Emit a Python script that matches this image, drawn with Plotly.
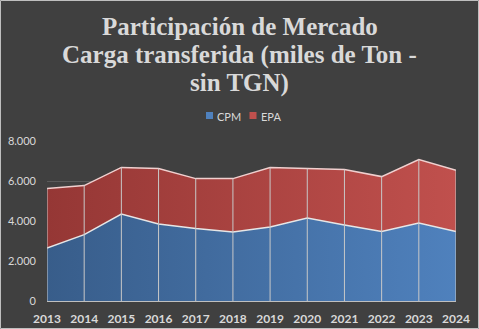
import plotly.graph_objects as go

# Transferred cargo (thousand tons, excluding TGN) by company
years = [2013, 2014, 2015, 2016, 2017, 2018, 2019, 2020, 2021, 2022, 2023, 2024]
cpm = [2650, 3320, 4350, 3850, 3620, 3450, 3700, 4150, 3800, 3470, 3900, 3470]
epa = [2980, 2450, 2330, 2770, 2500, 2670, 2970, 2470, 2770, 2750, 3170, 3060]

y_ticks = [0, 2000, 4000, 6000, 8000]
y_tick_labels = ["0", "2.000", "4.000", "6.000", "8.000"]

title_lines = ["Participación de Mercado",
               "Carga transferida (miles de Ton -",
               "sin TGN)"]

series_names = ["CPM", "EPA"]
series_colors = ["#4f81bd", "#c0504d"]

BG = "#404040"
TXT = "#d9d9d9"
SANS = "Lato, Liberation Sans"

totals = [a + b for a, b in zip(cpm, epa)]

fig = go.Figure()

fig.add_trace(go.Scatter(
    x=years, y=cpm, name=series_names[0], stackgroup="one", mode="lines",
    line=dict(color="#e6e6e6", width=1.5), showlegend=False,
    fillgradient=dict(type="horizontal",
                      colorscale=[[0, "#385d8a"], [1, "#4f81bd"]]),
))
fig.add_trace(go.Scatter(
    x=years, y=epa, name=series_names[1], stackgroup="one", mode="lines",
    line=dict(color="#f0d0cf", width=1.5), showlegend=False,
    fillgradient=dict(type="horizontal",
                      colorscale=[[0, "#953735"], [1, "#c0504d"]]),
))

# vertical drop lines from the baseline to the stacked total
drop_x, drop_y = [], []
for yr, tot in zip(years, totals):
    drop_x += [yr, yr, None]
    drop_y += [0, tot, None]
fig.add_trace(go.Scatter(
    x=drop_x, y=drop_y, mode="lines", showlegend=False, hoverinfo="skip",
    line=dict(color="#c8c8c8", width=1),
))

W, H = 479, 329
ml, mr, mt, mb = 47, 23, 141, 28
pw = W - ml - mr
ph = H - mt - mb


def px_x(px):
    return (px - ml) / pw


def px_y(py):
    return (H - mb - py) / ph


# title, one annotation per line
for line, py in zip(title_lines, [26, 55, 83]):
    fig.add_annotation(
        text=line, xref="paper", yref="paper",
        x=px_x(W / 2), y=px_y(py),
        xanchor="center", yanchor="middle", showarrow=False,
        font=dict(family="Liberation Serif", size=25, color=TXT, weight="bold"),
    )

# compact legend: small square swatch followed by the series name
for name, col, sx in zip(series_names, series_colors, [206, 249.5]):
    fig.add_shape(
        type="rect", xref="paper", yref="paper",
        x0=px_x(sx), x1=px_x(sx + 7), y0=px_y(119), y1=px_y(112),
        fillcolor=col, line=dict(width=0),
    )
    fig.add_annotation(
        text=name, xref="paper", yref="paper",
        x=px_x(sx + 9), y=px_y(116), xanchor="left", yanchor="middle",
        showarrow=False, font=dict(family=SANS, size=11, color=TXT),
    )

fig.update_layout(
    width=W, height=H,
    margin=dict(l=ml, r=mr, t=mt, b=mb),
    paper_bgcolor=BG, plot_bgcolor=BG,
    showlegend=False,
    xaxis=dict(
        range=[years[0], years[-1]], tickvals=years,
        ticktext=[str(y) for y in years],
        showgrid=False, zeroline=False, showline=True,
        linecolor="#bfbfbf", linewidth=1,
        tickfont=dict(family=SANS, size=12, color=TXT, weight="bold"),
        ticks="", ticklabelstandoff=7, automargin=False,
    ),
    yaxis=dict(
        range=[0, 8000], tickvals=y_ticks, ticktext=y_tick_labels,
        showgrid=True, gridcolor="#5a5a5a", gridwidth=1,
        zeroline=False, showline=False, ticks="",
        tickfont=dict(family=SANS, size=11, color=TXT),
        ticklabelstandoff=10, automargin=False,
    ),
)

# thin light frame around the chart area
fig.add_shape(
    type="rect", xref="paper", yref="paper", layer="above",
    x0=px_x(0.5), x1=px_x(W - 0.5), y0=px_y(H - 0.5), y1=px_y(0.5),
    line=dict(color="#bfbfbf", width=1),
)

fig.write_html("out.html")
